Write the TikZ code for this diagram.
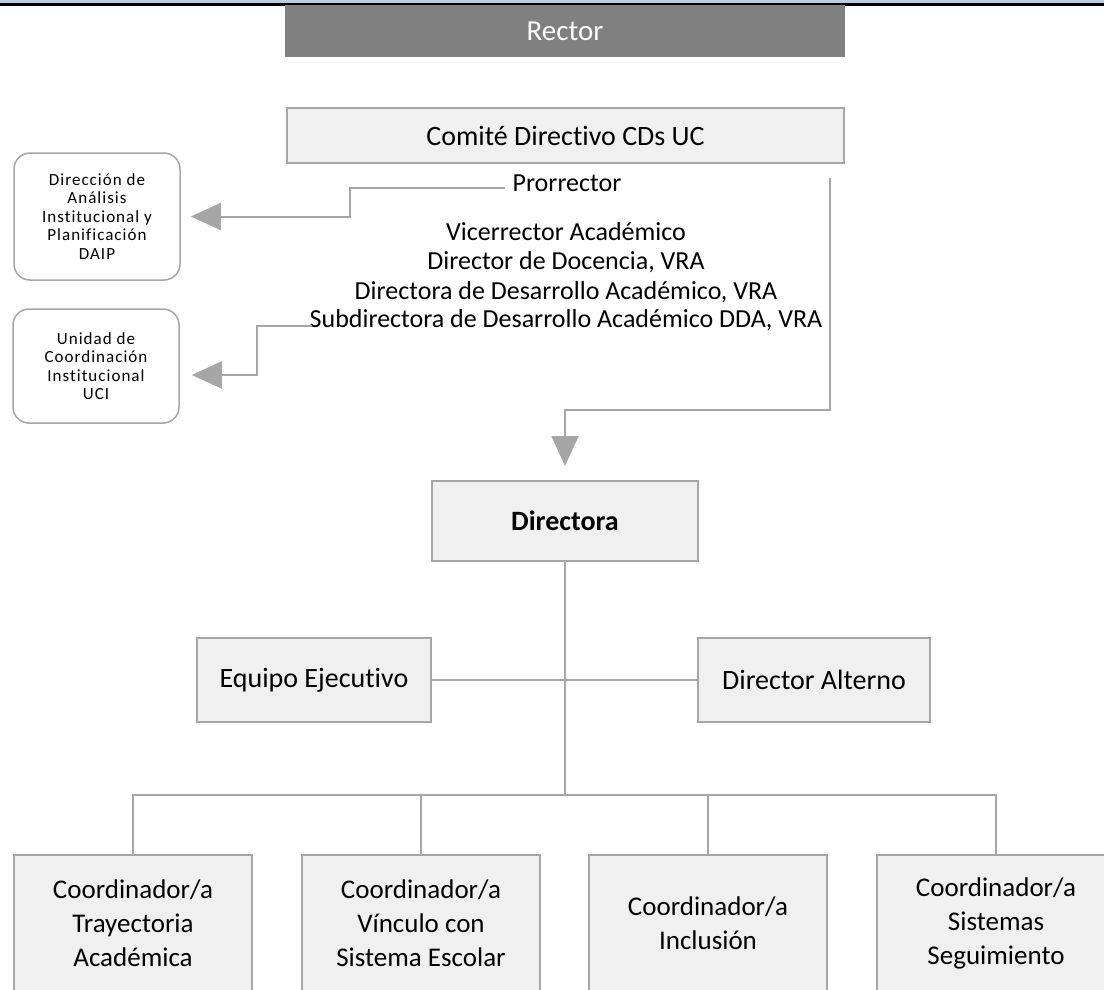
\documentclass[tikz,border=0pt]{standalone}
\usepackage{fontspec}
\setmainfont{Carlito}[Ligatures=NoCommon]
\newfontfamily\smallfont[LetterSpace=6,Ligatures=NoCommon]{Carlito}
\usetikzlibrary{arrows.meta}
\definecolor{ocbox}{HTML}{F0F0F0}
\definecolor{ocline}{HTML}{A6A6A6}
\definecolor{ocdark}{HTML}{808080}
\definecolor{ocband}{HTML}{B9CDE5}

\begin{document}
\begin{tikzpicture}[x=1pt, y=-1pt, every node/.style={font=\fontsize{26}{32}\selectfont},
    box/.style={rectangle, draw=ocline, line width=2pt, fill=ocbox, inner sep=0pt, align=center, font=\fontsize{28}{32}\selectfont},
    cbox/.style={box, minimum width=238pt, minimum height=137pt, font=\fontsize{27}{34}\selectfont},
    sidebox/.style={rectangle, rounded corners=16pt, draw=ocline, line width=1.5pt, fill=white, minimum width=166pt, inner sep=0pt, align=center, font=\smallfont\fontsize{17}{18.5}\selectfont},
    conn/.style={draw=ocline, line width=2pt},
    arr/.style={conn, -{Triangle[length=30pt,width=27pt]}}]
  \useasboundingbox (0,0) rectangle (1104,990);

  % Top band
  \fill[ocband] (0,0) rectangle (1104,3.5);
  \fill[black] (0,3.5) rectangle (1104,6.5);

  % Rector and committee
  \node[box, fill=ocdark, draw=ocdark, text=white, minimum width=558pt, minimum height=50pt, font=\fontsize{29}{32}\selectfont] (rec) at (565,31) {Rector};
  \node[box, minimum width=557pt, minimum height=55pt] (cdir) at (565.5,135.5) {Comité Directivo CDs UC};

  % Committee members
  \node (pror) at (567,183) {Prorrector};
  \node (vice) at (566,232) {Vicerrector Académico};
  \node (doce) at (566,262) {Director de Docencia, VRA};
  \node (ddes) at (566,292) {Directora de Desarrollo Académico, VRA};
  \node (sdda) at (566,320) {Subdirectora de Desarrollo Académico DDA, VRA};

  % Side units
  \node[sidebox, minimum height=127pt] (daip) at (97,216.5) {Dirección de\\Análisis\\Institucional y\\Planificación\\DAIP};
  \node[sidebox, minimum height=114pt] (uci) at (96,366) {Unidad de\\Coordinación\\Institucional\\UCI};

  % Links to side units
  \draw[arr, shorten >=10pt] ([xshift=-4pt,yshift=-5pt]pror.west) -- ++(-155,0) |- (daip.east);
  \draw[arr, shorten >=12pt] ([xshift=6pt,yshift=-6pt]sdda.west) -- ++(-55,0) |- ([yshift=-9pt]uci.east);

  % Directora
  \node[box, minimum width=266pt, minimum height=80pt, font=\fontsize{28}{32}\selectfont\bfseries] (dir) at (565,521) {Directora};
  \coordinate (grp) at (830,178);
  \coordinate (elb) at (830,410);
  \draw[arr] (grp) -- (elb) -| ([yshift=14pt]dir.north);

  % Support
  \node[box, minimum width=234pt, minimum height=84pt] (eq) at (314,680) {Equipo Ejecutivo};
  \node[box, minimum width=232pt, minimum height=84pt] (alt) at (814,680) {Director Alterno};
  \coordinate (bus) at (565,795);
  \draw[conn] (dir.south) -- (bus);
  \draw[conn] (eq.east) -- (alt.west);

  % Coordinators
  \node[cbox] (tra) at (133,923.5) {Coordinador/a\\Trayectoria\\Académica};
  \node[cbox] (vin) at (421,923.5) {Coordinador/a\\Vínculo con\\Sistema Escolar};
  \node[cbox] (inc) at (708,923.5) {Coordinador/a\\Inclusión};
  \node[cbox] (seg) at (996,923.5) {Coordinador/a\\Sistemas\\Seguimiento};
  \foreach \c in {tra,vin,inc,seg}
    \draw[conn] (bus) -| (\c.north);
\end{tikzpicture}
\end{document}
